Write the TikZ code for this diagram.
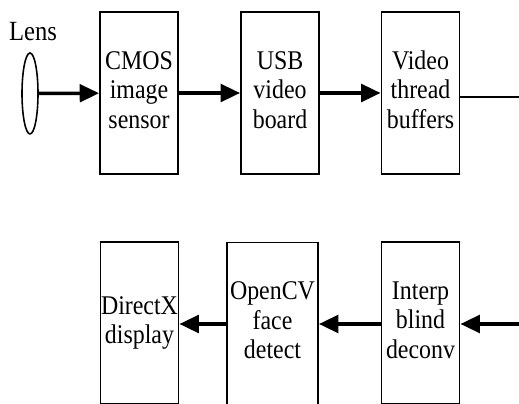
\documentclass[tikz,border=0pt]{standalone}
\usepackage{fontspec}
\setmainfont{Liberation Serif}
\usetikzlibrary{arrows.meta,shapes.geometric}
\newcommand{\tallrows}[1]{\scalebox{1}[1.13]{\begin{tabular}{@{}c@{}}#1\end{tabular}}}
\tikzset{
  block/.style={draw, line width=1.1pt, minimum width=1.56cm, minimum height=3.24cm,
    align=center, inner sep=0pt, font=\fontsize{13.6}{14.8}\selectfont},
  arr/.style={line width=2pt, -{Triangle[length=11pt, width=10pt]}}
}
\begin{document}
\begin{tikzpicture}[x=0.02cm, y=-0.02cm]
        \clip (0,0) rectangle (519,404);
        % Nodes
        \node[ellipse, draw, line width=0.9pt, minimum width=0.32cm, minimum height=1.62cm, inner sep=0pt] (lens) at (30,93.5) {};
        \node[font=\fontsize{14}{16}\selectfont, inner sep=0pt] (lenstxt) at (33,34) {\tallrows{Lens}};
        \node[block] (cmos) at (139,93) {\tallrows{CMOS\\image\\sensor}};
        \node[block] (usb) at (280,93) {\tallrows{USB\\video\\board}};
        \node[block] (vid) at (420.5,93) {\tallrows{Video\\thread\\buffers}};

        \node[block] (dx) at (139.5,323) {\tallrows{DirectX\\display}};
        \node[block, minimum width=1.82cm] (cv) at (272.5,323.5) {\tallrows{OpenCV\\face\\detect}};
        \node[block] (ibd) at (420.5,323) {\tallrows{Interp\\blind\\deconv}};

        \coordinate (rt) at (519,97);
        \coordinate (lt) at (519,324);

        % Top row
        \draw[arr] (lens) -- (cmos);
        \draw[arr] (cmos) -- (usb);
        \draw[arr] (usb) -- (vid);
        \draw[line width=0.8pt] (rt -| vid.east) -- (rt);

        % Bottom row
        \draw[arr] (lt) -- (lt -| ibd.east);
        \draw[arr] (ibd.west |- lt) -- (cv.east |- lt);
        \draw[arr] (cv.west |- lt) -- (dx.east |- lt);
\end{tikzpicture}
\end{document}
